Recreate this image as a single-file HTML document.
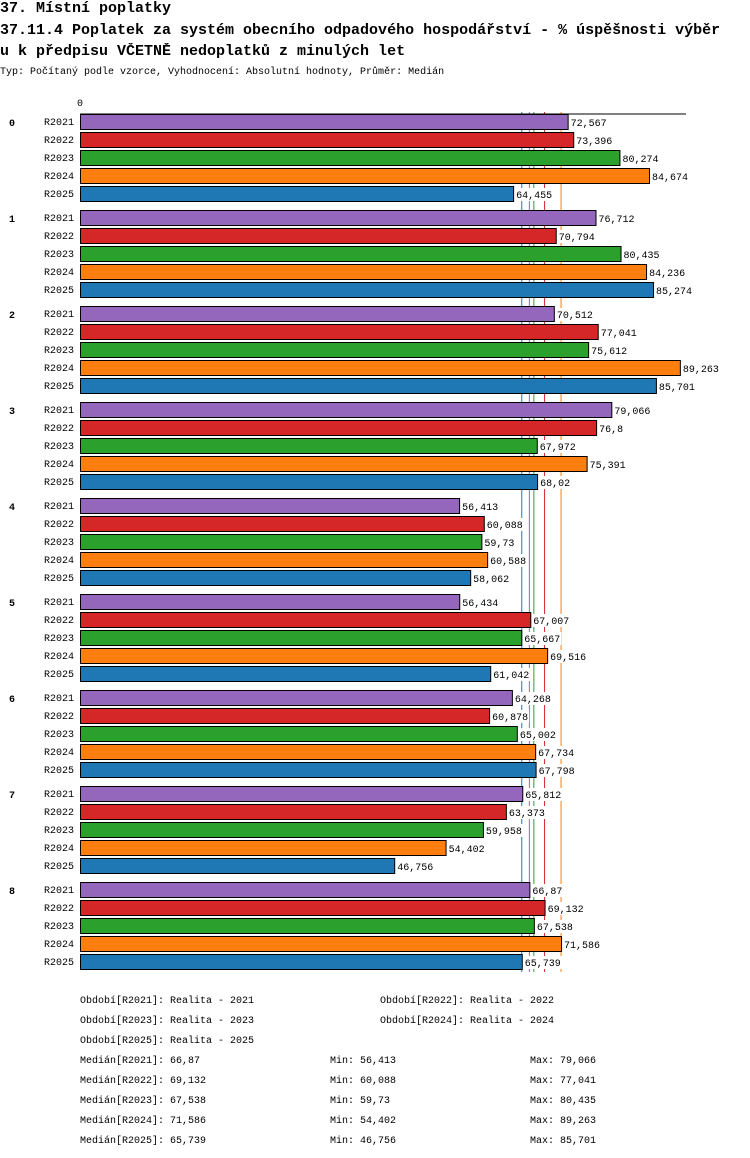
<!DOCTYPE html>
<html><head><meta charset="utf-8"><style>
body{margin:0;background:#fff;width:750px;height:1158px;overflow:hidden;font-family:"Liberation Mono","DejaVu Sans Mono",monospace;}
.t{position:absolute;left:0;width:750px;overflow:hidden;font-size:15px;font-weight:bold;white-space:nowrap;color:#000}
.s{position:absolute;left:0;font-size:10px;white-space:nowrap}
svg text{font-family:"Liberation Mono",monospace;font-size:10px}
</style></head><body>
<div class="t" style="top:0">37. Místní poplatky</div>
<div class="t" style="top:22px">37.11.4 Poplatek za systém obecního odpadového hospodářství  - % úspěšnosti výběr</div>
<div class="t" style="top:43px">u k předpisu VČETNĚ nedoplatků z minulých let</div>
<div class="s" style="top:67px">Typ: Počítaný podle vzorce, Vyhodnocení: Absolutní hodnoty, Průměr: Medián</div>
<svg id="c" width="750" height="1158" style="position:absolute;left:0;top:0"></svg>
<script>
const groups=["0","1","2","3","4","5","6","7","8"];
const series=["R2021","R2022","R2023","R2024","R2025"];
const colors=["#9467bd","#d62728","#2ca02c","#ff7f0e","#1f77b4"];
const v2021=[72.567,76.712,70.512,79.066,56.413,56.434,64.268,65.812,66.87];
const v2022=[73.396,70.794,77.041,76.8,60.088,67.007,60.878,63.373,69.132];
const v2023=[80.274,80.435,75.612,67.972,59.73,65.667,65.002,59.958,67.538];
const v2024=[84.674,84.236,89.263,75.391,60.588,69.516,67.734,54.402,71.586];
const v2025=[64.455,85.274,85.701,68.02,58.062,61.042,67.798,46.756,65.739];
const medians=[66.87,69.132,67.538,71.586,65.739];
const mins=["56,413","60,088","59,73","54,402","46,756"];
const maxs=["79,066","77,041","80,435","89,263","85,701"];
const periods=["Realita - 2021","Realita - 2022","Realita - 2023","Realita - 2024","Realita - 2025"];
const vals=[v2021,v2022,v2023,v2024,v2025];
const NS="http://www.w3.org/2000/svg",svg=document.getElementById('c');
const x=v=>80+v*6.72, y=(g,s)=>114+g*96+s*18;
function mk(t,a,p){const e=document.createElementNS(NS,t);for(const k in a)e.setAttribute(k,a[k]);(p||svg).appendChild(e);return e;}
const fmt=v=>String(v).replace('.',',');
medians.forEach((m,i)=>{
 let l=mk('line',{x1:x(m),y1:112,x2:x(m),y2:972,stroke:colors[i],'stroke-width':1});
 
 
});
let ax=mk('line',{x1:80,y1:114,x2:686,y2:114,stroke:'#000'});


let zl=mk('text',{x:77,y:106});zl.textContent='0';


groups.forEach((g,gi)=>{
 let gl=mk('text',{x:9,y:y(gi,0)+12,'font-weight':'bold'});gl.textContent=g;
 
 
 series.forEach((s,si)=>{
  const v=vals[si][gi],yy=y(gi,si);
  let sl=mk('text',{x:44,y:yy+11});sl.textContent=s;
  
  
  let r=mk('rect',{x:80.5,y:yy+0.5,width:x(v)-80,height:15,fill:colors[si],stroke:'#000'});
  
  
  const txt=fmt(v);
  let bg=mk('rect',{x:x(v)+2,y:yy+2,width:txt.length*6+2,height:13,fill:'#fff'});
  
  
  let vl=mk('text',{x:x(v)+3,y:yy+12});vl.textContent=txt;
  
  
 });
});
const lp=[[80,1003],[380,1003],[80,1023],[380,1023],[80,1043]];
periods.forEach((p,i)=>{
 let t=mk('text',{x:lp[i][0],y:lp[i][1]});t.textContent='Období['+series[i]+']: '+p;
 
 
});
series.forEach((s,i)=>{
 const yy=1063+i*20;
 let a=mk('text',{x:80,y:yy});a.textContent='Medián['+s+']: '+fmt(medians[i]);
 
 
 let b=mk('text',{x:330,y:yy});b.textContent='Min: '+mins[i];
 
 
 let c=mk('text',{x:530,y:yy});c.textContent='Max: '+maxs[i];
 
 
});
</script>
</body></html>
